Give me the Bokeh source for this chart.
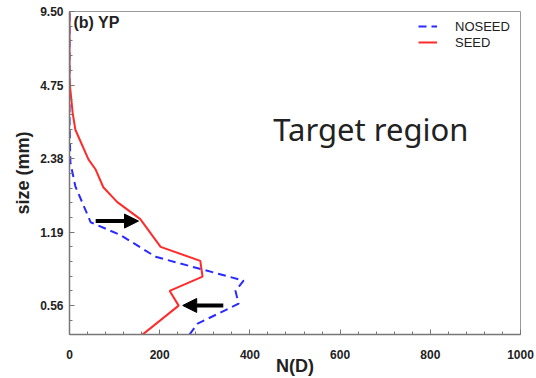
from bokeh.plotting import figure
from bokeh.models import (Range1d, FixedTicker, CustomJSTickFormatter, Legend,
                          LegendItem, Arrow, NormalHead, Label)
from bokeh.embed import file_html
from bokeh.resources import INLINE

# ---- data ----
red_size = [0.452, 0.594, 0.683, 0.781, 0.906, 1.033, 1.343, 1.576, 1.813,
            2.142, 2.357, 3.117, 3.654, 4.53, 4.98, 9.5]
red_n = [162, 242, 222, 295, 290, 202, 157, 106, 75, 58, 42, 13, 7, 2, 0, 0]

blue_size = [0.452, 0.501, 0.605, 0.683, 0.752, 0.941, 1.155, 1.303, 1.828,
             2.288, 3.42, 9.5]
blue_n = [266, 284, 375, 368, 386, 191, 113, 47, 13, 2, 0, 0]

x_ticks = [0, 200, 400, 600, 800, 1000]
x_minor = list(range(0, 1001, 40))
y_ticks = [0.59375, 1.1875, 2.375, 4.75, 9.5]
y_tick_labels = ["0.56", "1.19", "2.38", "4.75", "9.50"]
y_minor = [9.5 * 2 ** (-j / 5) for j in range(0, 23)]

# arrows: (x_start, x_end, size)
arrow1 = (58, 153, 1.318)
arrow2 = (341, 251, 0.595)
note_pos = (452, 3.15)

p = figure(width=536, height=378, y_axis_type="log",
           x_range=Range1d(0, 1000), y_range=Range1d(0.4525, 9.5),
           output_backend="svg", toolbar_location=None,
           min_border_left=69, min_border_right=16, min_border_top=11,
           min_border_bottom=42, background_fill_color="white",
           border_fill_color="white")

p.grid.visible = False
p.outline_line_color = "#999999"
p.outline_line_width = 1

r_blue = p.line(blue_n, blue_size, line_color="#2a2aff", line_width=2,
                line_dash="8 5")
r_red = p.line(red_n, red_size, line_color="#ff2a2a", line_width=2)

# axes
xa = p.xaxis[0]
xa.ticker = FixedTicker(ticks=x_ticks, minor_ticks=x_minor)
ya = p.yaxis[0]
ya.ticker = FixedTicker(ticks=y_ticks, minor_ticks=y_minor)
ya.formatter = CustomJSTickFormatter(args=dict(tvals=y_ticks, tlabs=y_tick_labels), code="""
    for (let i = 0; i < tvals.length; i++) {
        if (Math.abs(tvals[i] - tick) < 1e-6) return tlabs[i];
    }
    return "";
""")
for ax in (xa, ya):
    ax.axis_line_color = "#777777"
    ax.axis_line_width = 1.5
    ax.major_tick_line_color = "#777777"
    ax.minor_tick_line_color = "#777777"
    ax.major_tick_in = 5
    ax.major_tick_out = 0
    ax.minor_tick_in = 3
    ax.minor_tick_out = 0
    ax.major_label_text_font = "Liberation Sans"
    ax.major_label_text_font_style = "bold"
    ax.major_label_text_font_size = "12px"
    ax.major_label_text_color = "#222222"
    ax.axis_label_text_font = "Liberation Sans"
    ax.axis_label_text_font_style = "bold"
    ax.axis_label_text_font_size = "18px"
    ax.axis_label_text_color = "#222222"

xa.axis_label = "N(D)"
xa.major_label_standoff = 15
xa.axis_label_standoff = -6
ya.axis_label = "size (mm)"
ya.major_label_standoff = 6
ya.axis_label_standoff = 4

# legend
legend = Legend(items=[LegendItem(label="NOSEED", renderers=[r_blue]),
                       LegendItem(label="SEED", renderers=[r_red])],
                location=(349, 284), border_line_color=None,
                background_fill_alpha=0, padding=0, margin=0, spacing=0,
                glyph_width=19, glyph_height=16, label_height=16,
                label_standoff=18, label_text_font="Liberation Sans",
                label_text_font_size="13px", label_text_color="#222222")
p.add_layout(legend, "center")

# arrows
for (x0, x1, yy) in (arrow1, arrow2):
    p.add_layout(Arrow(end=NormalHead(size=14, fill_color="black", line_color="black"),
                       x_start=x0, y_start=yy, x_end=x1, y_end=yy,
                       line_width=4, line_color="black"))

p.add_layout(Label(x=4, y=312, x_units="screen", y_units="screen", text="(b) YP",
                   text_font="Liberation Sans", text_font_style="bold",
                   text_font_size="16px", text_color="#222222",
                   text_baseline="middle"))

p.add_layout(Label(x=note_pos[0], y=note_pos[1], text="Target region",
                   text_font="Noto Sans", text_font_size="31px",
                   text_color="#222222", text_baseline="alphabetic"))

open("out.html", "w").write(file_html(p, INLINE))
